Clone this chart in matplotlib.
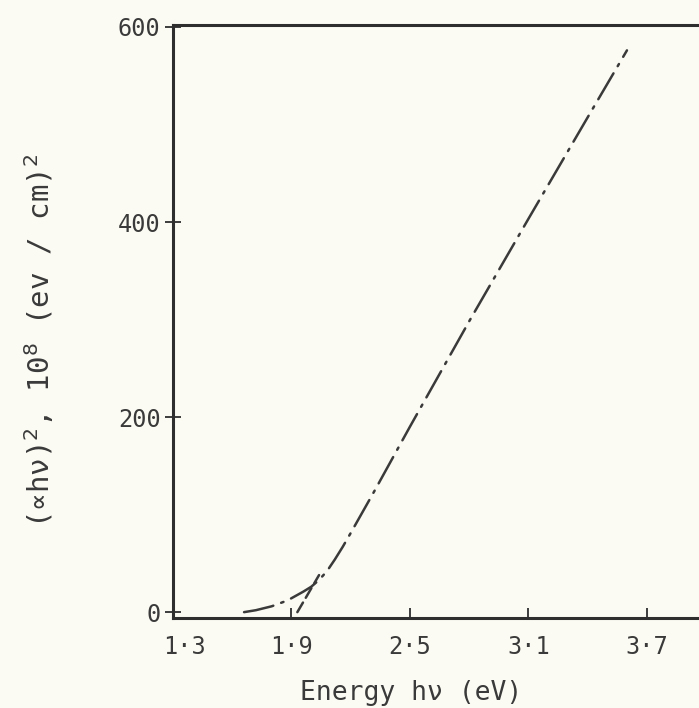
import matplotlib
matplotlib.use("Agg")
import matplotlib.pyplot as plt
import matplotlib.transforms as mtransforms

# ---- data ----
energy = [1.66, 1.72, 1.80, 1.88, 1.96, 2.00, 2.04, 2.08, 2.12, 2.16, 2.20, 2.32, 2.50, 2.80, 3.10, 3.40, 3.60]
alpha_hv_sq = [0, 2, 6, 12, 21, 26, 33, 42, 54, 67, 81, 124, 190, 298, 403, 507, 576]
extrap_x = [1.93, 2.04]
extrap_y = [0, 38]

x_ticks = [1.3, 1.9, 2.5, 3.1, 3.7]
x_ticklabels = ["1·3", "1·9", "2·5", "3·1", "3·7"]
y_ticks = [0, 200, 400, 600]
y_ticklabels = ["0", "200", "400", "600"]

plt.rcParams['lines.scale_dashes'] = False
plt.rcParams['font.family'] = ['DejaVu Sans Mono', 'DejaVu Sans']

bg = '#fcfbf3'
ink = '#2e2e2e'
txt = '#3a3a3a'

fig = plt.figure(figsize=(6.99, 7.08), dpi=100, facecolor=bg)
ax = fig.add_axes([173/699, 1-618/708, 1-173/699, (618-25)/708])
ax.set_facecolor(bg)

ax.plot(energy, alpha_hv_sq, color='#3a3a3a', lw=1.8, dashes=(21.6, 6.0, 1.8, 6.0),
        dash_capstyle='round')
ax.plot(extrap_x, extrap_y, color='#3a3a3a', lw=1.8, dashes=(8, 4), dash_capstyle='round')

ax.set_xlim(1.3, 3.965)
ax.set_ylim(-6, 602)

ax.set_xticks(x_ticks)
ax.set_xticklabels(x_ticklabels)
ax.set_yticks(y_ticks)
ax.set_yticklabels(y_ticklabels)

for s in ['left', 'top', 'bottom']:
    ax.spines[s].set_linewidth(2.2)
    ax.spines[s].set_color(ink)
ax.spines['right'].set_visible(False)

ax.tick_params(axis='x', direction='in', length=7, width=1.3, colors=ink,
               labelsize=17, pad=12, labelcolor=txt)
ax.tick_params(axis='y', direction='inout', length=12, width=1.3, colors=ink,
               labelsize=17, pad=3, labelcolor=txt)

# shift the first x label slightly right of the spine, as in the reference
lbl0 = ax.get_xticklabels()[0]
lbl0.set_transform(lbl0.get_transform() + mtransforms.ScaledTranslation(12/100, 0, fig.dpi_scale_trans))

ax.set_xlabel("Energy hν (eV)", fontsize=19, color=txt)
ax.xaxis.set_label_coords(0.452, -0.105)
ax.set_ylabel("(∝hν)$^2$, 10$^8$ (ev / cm)$^2$", fontsize=21, color=txt)
ax.yaxis.set_label_coords(-0.222, 0.467)

fig.savefig("out.png", dpi=100, facecolor=bg)
